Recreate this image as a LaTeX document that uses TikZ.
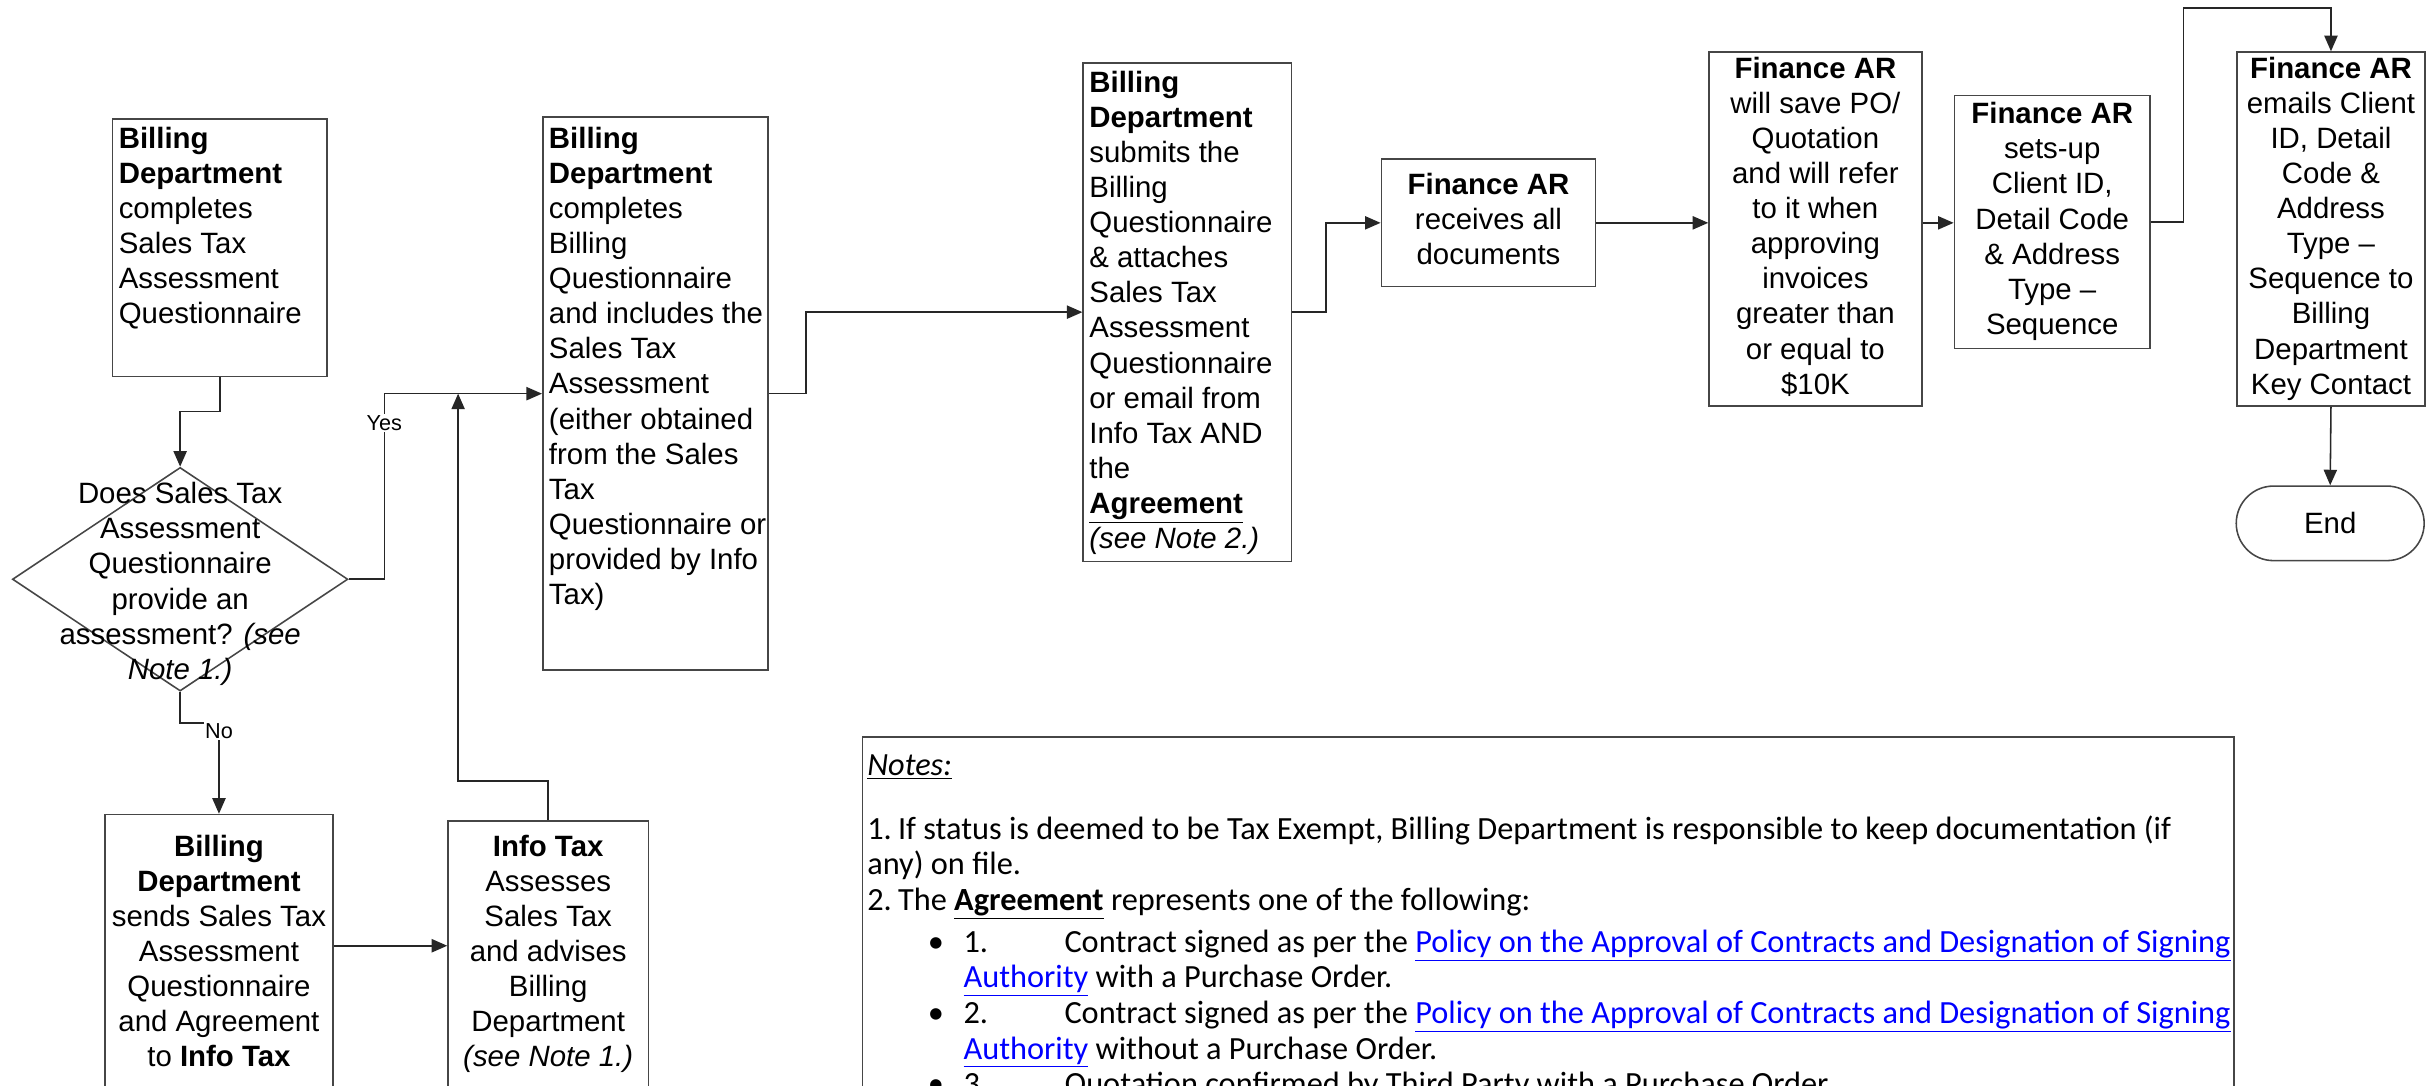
\documentclass[tikz,border=0pt]{standalone}
\usepackage{fontspec}
\setmainfont{Liberation Sans}
\newfontfamily\notesfont{Carlito}
\usetikzlibrary{arrows.meta,shapes.geometric,calc}
\definecolor{linkblue}{RGB}{0,0,255}
\definecolor{boxline}{RGB}{70,70,70}
\newcommand\boxfont{\fontsize{19}{22.7}\selectfont}
% left-aligned, top-aligned box: width, height, top pad, lines
\newcommand\lbox[4]{\parbox[c][#2bp][t]{#1bp}{\boxfont\vspace*{#3bp}\hspace*{4bp}\begin{tabular}[t]{@{}l@{}}#4\end{tabular}}}
% centred, top-aligned box
\newcommand\ctbox[4]{\parbox[c][#2bp][t]{#1bp}{\boxfont\centering\vspace*{#3bp}\begin{tabular}[t]{@{}c@{}}#4\end{tabular}\par}}
% centred both ways
\newcommand\cbox[3]{\parbox[c][#2bp][c]{#1bp}{\boxfont\centering\begin{tabular}{@{}c@{}}#3\end{tabular}\par}}
\newcommand\lnk[1]{\textcolor{linkblue}{\underline{#1}}}
\tikzset{
  box/.style={draw=boxline, line width=1bp, inner sep=0pt, anchor=north west, fill=white},
  conn/.style={draw=black!85, line width=1bp},
  arr/.style={conn, -{Triangle[length=10bp,width=8.5bp]}},
  lbl/.style={fill=white, inner sep=1bp, font=\fontsize{14}{15}\selectfont},
}
\begin{document}
\begin{tikzpicture}[x=1bp,y=-1bp]
\useasboundingbox (0,0) rectangle (1568,699);
\fill[white] (0,0) rectangle (1568,699);
\clip (0,0) rectangle (1568,699);

% boxes
\node[box] (b1) at (72,76) {\lbox{138}{166}{3}{\textbf{Billing}\\\textbf{Department}\\completes\\Sales Tax\\Assessment\\Questionnaire}};
\node[draw=boxline, line width=1bp, diamond, inner sep=0pt, minimum width=216bp, minimum height=144bp] (d1) at (116,373) {};
\node[align=center, font=\boxfont, inner sep=0pt] (d1t) at (116,376) {Does Sales Tax\\Assessment\\Questionnaire\\provide an\\assessment? \textit{(see}\\\textit{Note 1.)}};
\node[box] (b2) at (67,524) {\ctbox{147}{185}{11}{\textbf{Billing}\\\textbf{Department}\\sends Sales Tax\\Assessment\\Questionnaire\\and Agreement\\to \textbf{Info Tax}}};
\node[box] (b3) at (288,528) {\ctbox{129}{185}{7}{\textbf{Info Tax}\\Assesses\\Sales Tax\\and advises\\Billing\\Department\\\textit{(see Note 1.)}}};
\node[box] (b4) at (349,75) {\lbox{145}{356}{4}{\textbf{Billing}\\\textbf{Department}\\completes\\Billing\\Questionnaire\\and includes the\\Sales Tax\\Assessment\\(either obtained\\from the Sales\\Tax\\Questionnaire or\\provided by Info\\Tax)}};
\node[box] (b5) at (697,40) {\lbox{134}{321}{3}{\textbf{Billing}\\\textbf{Department}\\submits the\\Billing\\Questionnaire\\\& attaches\\Sales Tax\\Assessment\\Questionnaire\\or email from\\Info Tax AND\\the\\\underline{\textbf{Agreement}}\\\textit{(see Note 2.)}}};
\node[box] (b6) at (889,102) {\cbox{138}{82}{\textbf{Finance AR}\\receives all\\documents}};
\node[box] (b7) at (1100,33) {\cbox{137}{228}{\textbf{Finance AR}\\will save PO/\\Quotation\\and will refer\\to it when\\approving\\invoices\\greater than\\or equal to\\\$10K}};
\node[box] (b8) at (1258,61) {\cbox{126}{163}{\textbf{Finance AR}\\sets-up\\Client ID,\\Detail Code\\\& Address\\Type –\\Sequence}};
\node[box] (b9) at (1440,33) {\cbox{121}{228}{\textbf{Finance AR}\\emails Client\\ID, Detail\\Code \&\\Address\\Type –\\Sequence to\\Billing\\Department\\Key Contact}};
\node[draw=boxline, line width=1bp, rounded corners=24bp, minimum width=121bp, minimum height=48bp, inner sep=0pt, font=\boxfont] (end) at (1500.5,337) {End};

% notes
\node[box] (notes) at (555,474) {\parbox[c][240bp][t]{883bp}{\notesfont\fontsize{20.9}{23}\selectfont\leftskip=3bp\rightskip=0pt plus 1fil\parindent=0pt
\vspace*{9bp}\strut\underline{\textit{Notes:}}\\[18bp]
\mbox{1.\hspace{4bp}If status is deemed to be Tax Exempt, Billing Department is responsible to keep documentation (if}\\
any) on file.\\
\mbox{2.\hspace{4bp}The \underline{\textbf{Agreement}} represents one of the following:}\\[4bp]
\hspace*{39bp}\makebox[23bp][l]{•}\makebox[65bp][l]{1.}\mbox{Contract signed as per the \lnk{Policy on the Approval of Contracts and Designation of Signing}}\\
\hspace*{62bp}\mbox{\lnk{Authority} with a Purchase Order.}\\
\hspace*{39bp}\makebox[23bp][l]{•}\makebox[65bp][l]{2.}\mbox{Contract signed as per the \lnk{Policy on the Approval of Contracts and Designation of Signing}}\\
\hspace*{62bp}\mbox{\lnk{Authority} without a Purchase Order.}\\
\hspace*{39bp}\makebox[23bp][l]{•}\makebox[65bp][l]{3.}\mbox{Quotation confirmed by Third Party with a Purchase Order.}
}};

% connectors
\draw[arr] (b1.south) -- ++(0,22) -| (d1.north);
\draw[arr] (d1.east) -- ++(23,0) |- node[lbl, pos=0.42] (yes) {Yes} (b4.west);
\draw[arr] (d1.south) -- ++(0,20) -| node[lbl, pos=0.5, yshift=-5bp] (no) {No} (b2.north);
\draw[arr] ([yshift=-85bp]b2.north east) -- ([yshift=-85bp]b2.north east -| b3.west);
\draw[arr] (b3.north) -- ++(0,-25) -| ([xshift=-54bp]b4.west);
\draw[arr] (b4.east) -- ++(24,0) |- (b5.west);
\draw[arr] (b5.east) -- ++(22,0) |- (b6.west);
\draw[arr] (b6.east) -- (b6.east -| b7.west);
\draw[arr] (b6.east -| b7.east) -- (b6.east -| b8.west);
\draw[arr] (b8.east) -- ++(21,0) |- ([yshift=28bp]b9.north) -- (b9.north);
\draw[arr] (b9.south) -- (end.north);
\end{tikzpicture}
\end{document}
